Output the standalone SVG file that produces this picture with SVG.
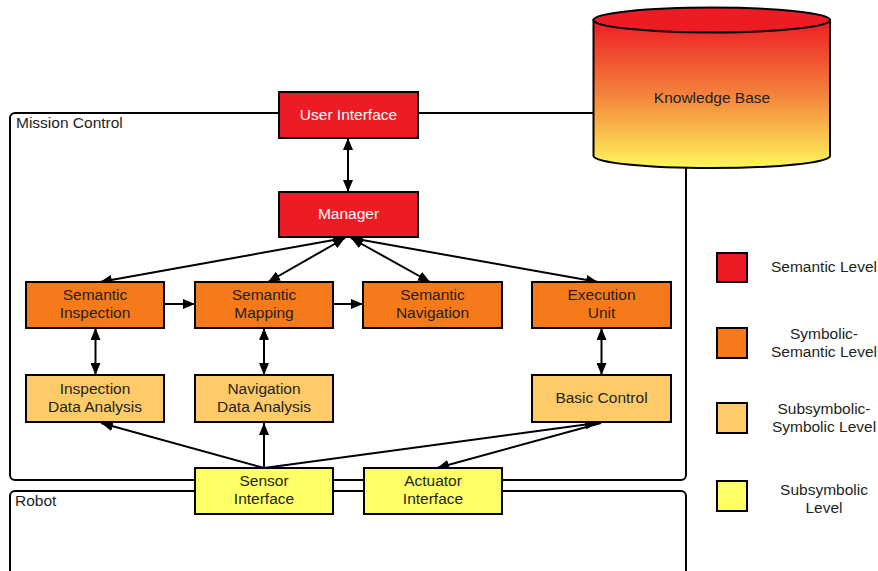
<svg xmlns="http://www.w3.org/2000/svg" width="878" height="571" viewBox="0 0 878 571">
<defs>
<linearGradient id="kbg" x1="0" y1="0" x2="0" y2="1">
<stop offset="0" stop-color="#ED1C24"/>
<stop offset="0.5" stop-color="#F4823C"/>
<stop offset="1" stop-color="#FFF65C"/>
</linearGradient>
<marker id="ah" viewBox="0 0 12 10" refX="12" refY="5" markerWidth="12" markerHeight="10" markerUnits="userSpaceOnUse" orient="auto-start-reverse">
<path d="M0,0 L12,5 L0,10 z" fill="#000"/>
</marker>
</defs>
<style>
text{font-family:"Liberation Sans",Arial,sans-serif;font-size:15.5px;fill:#231F20;text-anchor:middle}
.lbl{text-anchor:start}
.w{fill:#fff}
.box{stroke:#000;stroke-width:2}
.sem{fill:#ED1C24}
.sym{fill:#F77A1A}
.sub{fill:#FFCB69}
.low{fill:#FFFF66}
.frame{fill:none;stroke:#000;stroke-width:2}
.c line{stroke:#000;stroke-width:2}
</style>

<g id="frames">
<rect class="frame" x="10" y="113" width="676" height="367" rx="5"/>
<text class="lbl" x="16" y="128">Mission Control</text>
<rect class="frame" x="10" y="491" width="676" height="95" rx="5"/>
<text class="lbl" x="15" y="506">Robot</text>
</g>

<g class="c" id="connectors">
<line x1="348" y1="138" x2="348" y2="192" marker-start="url(#ah)" marker-end="url(#ah)"/>
<line x1="345" y1="238" x2="100" y2="282" marker-start="url(#ah)" marker-end="url(#ah)"/>
<line x1="345" y1="238" x2="268" y2="282" marker-start="url(#ah)" marker-end="url(#ah)"/>
<line x1="351" y1="238" x2="430" y2="282" marker-start="url(#ah)" marker-end="url(#ah)"/>
<line x1="351" y1="238" x2="598" y2="282" marker-start="url(#ah)" marker-end="url(#ah)"/>
<line x1="164" y1="304" x2="195" y2="304" marker-end="url(#ah)"/>
<line x1="333" y1="304" x2="363" y2="304" marker-end="url(#ah)"/>
<line x1="95.5" y1="328" x2="95.5" y2="375" marker-start="url(#ah)" marker-end="url(#ah)"/>
<line x1="264" y1="328" x2="264" y2="375" marker-start="url(#ah)" marker-end="url(#ah)"/>
<line x1="601.5" y1="328" x2="601.5" y2="375" marker-start="url(#ah)" marker-end="url(#ah)"/>
<line x1="264" y1="468" x2="101" y2="423" marker-end="url(#ah)"/>
<line x1="264" y1="468" x2="264" y2="423" marker-end="url(#ah)"/>
<line x1="264" y1="468" x2="597" y2="423" marker-end="url(#ah)"/>
<line x1="601" y1="423" x2="437" y2="468" marker-end="url(#ah)"/>
</g>

<g id="knowledge-base">
<path d="M593.5,20 L593.5,156 A118.25,12 0 0 0 830,156 L830,20 Z" fill="url(#kbg)" stroke="#000" stroke-width="2"/>
<ellipse cx="711.75" cy="20" rx="118.25" ry="12.5" fill="#ED1C24" stroke="#000" stroke-width="2"/>
<text x="712" y="103">Knowledge Base</text>
</g>

<g id="user-interface">
<rect class="box sem" x="279" y="92" width="139" height="46"/>
<text class="w" x="348.5" y="120">User Interface</text>
</g>
<g id="manager">
<rect class="box sem" x="279" y="192" width="139" height="45"/>
<text class="w" x="348.5" y="219">Manager</text>
</g>

<g id="semantic-inspection">
<rect class="box sym" x="26" y="282" width="138" height="46"/>
<text x="95" y="300">Semantic</text>
<text x="95" y="318">Inspection</text>
</g>
<g id="semantic-mapping">
<rect class="box sym" x="195" y="282" width="138" height="46"/>
<text x="264" y="300">Semantic</text>
<text x="264" y="318">Mapping</text>
</g>
<g id="semantic-navigation">
<rect class="box sym" x="363" y="282" width="139" height="46"/>
<text x="432.5" y="300">Semantic</text>
<text x="432.5" y="318">Navigation</text>
</g>
<g id="execution-unit">
<rect class="box sym" x="532" y="282" width="139" height="46"/>
<text x="601.5" y="300">Execution</text>
<text x="601.5" y="318">Unit</text>
</g>

<g id="inspection-data-analysis">
<rect class="box sub" x="26" y="375" width="138" height="47"/>
<text x="95" y="394">Inspection</text>
<text x="95" y="412">Data Analysis</text>
</g>
<g id="navigation-data-analysis">
<rect class="box sub" x="195" y="375" width="138" height="47"/>
<text x="264" y="394">Navigation</text>
<text x="264" y="412">Data Analysis</text>
</g>
<g id="basic-control">
<rect class="box sub" x="532" y="375" width="139" height="47"/>
<text x="601.5" y="403">Basic Control</text>
</g>

<g id="sensor-interface">
<rect class="box low" x="195" y="468" width="138" height="46"/>
<text x="264" y="486">Sensor</text>
<text x="264" y="504">Interface</text>
</g>
<g id="actuator-interface">
<rect class="box low" x="364" y="468" width="138" height="46"/>
<text x="433" y="486">Actuator</text>
<text x="433" y="504">Interface</text>
</g>

<g id="legend">
<rect class="box sem" x="717" y="253" width="30" height="29"/>
<text x="824" y="272">Semantic Level</text>
<rect class="box sym" x="717" y="328" width="30" height="30"/>
<text x="824" y="339">Symbolic-</text>
<text x="824" y="357">Semantic Level</text>
<rect class="box sub" x="717" y="403" width="30" height="30"/>
<text x="824" y="414">Subsymbolic-</text>
<text x="824" y="432">Symbolic Level</text>
<rect class="box low" x="717" y="481" width="30" height="30"/>
<text x="824" y="495">Subsymbolic</text>
<text x="824" y="513">Level</text>
</g>
</svg>
